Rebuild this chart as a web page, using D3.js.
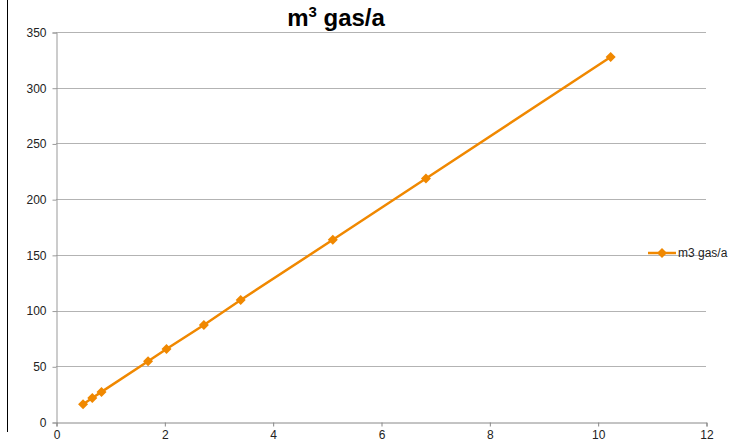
<!DOCTYPE html>
<html>
<head>
<meta charset="utf-8">
<script src="https://cdn.jsdelivr.net/npm/d3@7"></script>
<style>
  body { margin: 0; background: #fff; }
  svg text { font-family: "Liberation Sans", Arial, sans-serif; }
</style>
</head>
<body>
<div id="chart-area"></div>
<script>
// data
var xValues = [0.5, 0.67, 0.84, 1.7, 2.04, 2.73, 3.41, 5.11, 6.83, 10.24];
var yValues = [16, 21.5, 27, 54.5, 65.5, 87, 109.5, 163.5, 218.5, 327.5];
var xTicks = [0, 2, 4, 6, 8, 10, 12];
var yTicks = [0, 50, 100, 150, 200, 250, 300, 350];
var seriesName = "m3 gas/a";

var width = 733, height = 448;
var svg = d3.select("#chart-area").append("svg").attr("width", width).attr("height", height);

// left border line
svg.append("line").attr("x1", 7.5).attr("x2", 7.5).attr("y1", 0).attr("y2", 432)
  .attr("stroke", "#000").attr("stroke-width", 1);

var x = d3.scaleLinear().domain([0, 12]).range([56, 706]);
var y = d3.scaleLinear().domain([0, 350]).range([422, 32]);

// gridlines
svg.append("g").selectAll("line").data(yTicks.slice(1)).enter().append("line")
  .attr("x1", 56).attr("x2", 706)
  .attr("y1", d => Math.round(y(d)) + 0.5).attr("y2", d => Math.round(y(d)) + 0.5)
  .attr("stroke", "#b3b3b3").attr("stroke-width", 1);

// y axis
var yAxis = svg.append("g").attr("transform", "translate(56.5,0.5)")
  .call(d3.axisLeft(y).tickValues(yTicks).tickSize(4).tickPadding(6));
yAxis.select(".domain").attr("stroke", "#999");
yAxis.selectAll(".tick line").attr("stroke", "#999");
yAxis.selectAll("text").attr("font-size", 12).attr("fill", "#222");

// x axis
var xAxis = svg.append("g").attr("transform", "translate(0.5,422.5)")
  .call(d3.axisBottom(x).tickValues(xTicks).tickSize(4).tickPadding(4));
xAxis.select(".domain").attr("stroke", "#888");
xAxis.selectAll(".tick line").attr("stroke", "#888");
xAxis.selectAll("text").attr("font-size", 12).attr("fill", "#222");

var orange = "#f08800";
var pts = xValues.map((v, i) => [v, yValues[i]]);

svg.append("path").datum(pts)
  .attr("d", d3.line().x(d => x(d[0])).y(d => y(d[1])))
  .attr("fill", "none").attr("stroke", orange).attr("stroke-width", 2.5);

var diamond = d3.symbol().type(d3.symbolDiamond2).size(64);
svg.append("g").selectAll("path").data(pts).enter().append("path")
  .attr("d", diamond)
  .attr("transform", d => "translate(" + x(d[0]) + "," + y(d[1]) + ")")
  .attr("fill", orange);

// title
var title = svg.append("text").attr("x", 336).attr("y", 26)
  .attr("text-anchor", "middle").attr("font-size", 24).attr("font-weight", "bold").attr("fill", "#000");
title.append("tspan").text("m");
title.append("tspan").attr("font-size", 15).attr("dy", -9).text("3");
title.append("tspan").attr("dy", 9).text(" gas/a");

// legend
var lg = svg.append("g").attr("transform", "translate(648,253)");
lg.append("line").attr("x1", 0).attr("x2", 28).attr("y1", 0).attr("y2", 0)
  .attr("stroke", orange).attr("stroke-width", 2.5);
lg.append("path").attr("d", diamond).attr("transform", "translate(14,0)").attr("fill", orange);
lg.append("text").attr("x", 30).attr("y", 4).attr("font-size", 12).attr("fill", "#222").text(seriesName);
</script>
</body>
</html>
